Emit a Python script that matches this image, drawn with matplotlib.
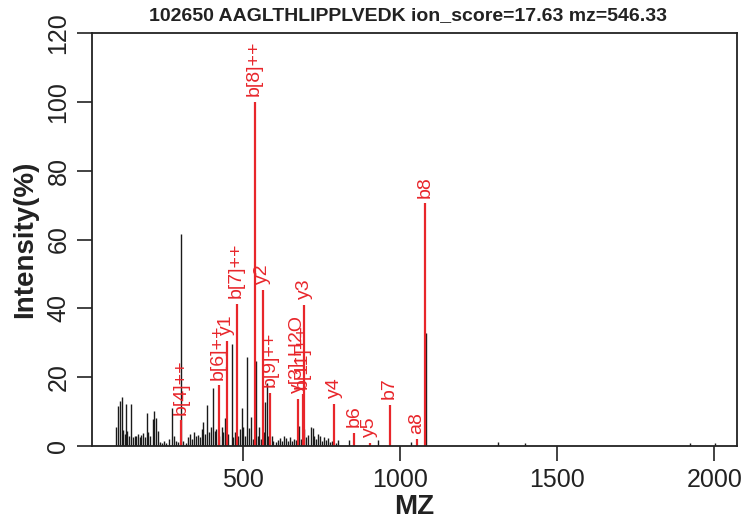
import matplotlib
matplotlib.use("Agg")
import matplotlib.pyplot as plt

plt.rcParams['font.family'] = ['Liberation Sans', 'DejaVu Sans']

# spectrum peaks (unmatched), m/z and relative intensity (%)
peak_mz = [96.1, 102.5, 110.4, 115.2, 120.0, 124.8, 129.5, 132.7, 137.5, 145.4,
           151.8, 156.6, 161.3, 167.7, 172.5, 177.2, 182.0, 188.4, 194.7, 199.5,
           205.9, 213.2, 218.6, 224.0, 229.7, 236.1, 241.5, 248.8, 255.1, 264.7,
           275.2, 280.6, 287.1, 293.3, 302.8, 309.2, 318.7, 325.1, 331.5, 337.8,
           344.2, 350.5, 356.9, 363.3, 368.7, 373.8, 379.2, 386.5, 391.9, 398.2,
           403.6, 411.0, 415.7, 425.3, 432.3, 436.4, 442.8, 453.9, 464.1, 469.8,
           474.6, 485.7, 490.5, 495.9, 501.0, 506.4, 512.7, 520.0, 526.4, 531.8,
           542.3, 547.7, 552.5, 557.2, 566.8, 570.6, 577.3, 581.1, 591.3, 597.0,
           604.9, 611.3, 617.7, 624.0, 630.4, 636.7, 643.1, 649.5, 655.8, 662.2,
           668.5, 679.0, 684.4, 694.0, 700.3, 706.7, 715.3, 721.6, 725.8, 732.1,
           739.5, 744.9, 751.2, 757.6, 763.9, 770.3, 776.7, 783.0, 795.7, 802.1,
           837.1, 930.3, 1034.2, 1081.9, 1310.9, 1396.8, 1921.5, 2001.0]
peak_int = [5.6, 11.5, 13.0, 14.2, 4.6, 3.5, 12.3, 4.5, 3.0, 12.2,
            2.5, 3.0, 2.8, 3.5, 2.5, 3.2, 3.8, 2.6, 9.6, 4.2,
            3.0, 7.7, 10.3, 8.0, 4.5, 1.2, 1.0, 1.5, 1.0, 2.0,
            11.0, 2.8, 1.5, 1.2, 61.6, 1.5, 1.0, 2.5, 3.5, 2.0,
            4.0, 3.0, 3.2, 2.5, 5.0, 7.0, 3.5, 12.0, 4.0, 5.5,
            16.8, 4.5, 5.0, 3.0, 5.6, 4.0, 8.0, 3.5, 29.6, 2.5,
            4.0, 3.0, 5.0, 10.9, 5.5, 3.0, 25.9, 5.3, 8.5, 2.0,
            24.8, 3.0, 5.6, 2.0, 4.0, 12.9, 18.2, 3.0, 2.8, 1.5,
            1.2, 1.8, 2.2, 1.5, 2.8, 2.3, 1.5, 2.5, 1.5, 2.0,
            1.8, 5.8, 2.0, 5.0, 2.5, 3.2, 5.6, 5.3, 3.0, 2.0,
            3.5, 2.8, 1.5, 2.5, 1.8, 2.2, 1.2, 1.5, 1.0, 1.8,
            1.8, 1.6, 1.2, 32.7, 1.2, 1.0, 1.0, 1.0]

# matched fragment ions
ion_labels = ['b[4]++', 'b[6]++', 'y1', 'b[7]++', 'b[8]++', 'y2', 'b[9]++',
              'y[3]-H2O', 'b[11]++', 'y3', 'y4', 'b6', 'y5', 'b7', 'a8', 'b8']
ion_mz = [303.0, 422.7, 448.2, 480.0, 537.2, 562.6, 585.9,
          674.9, 689.8, 694.9, 790.3, 853.0, 903.9, 966.5, 1052.4, 1079.7]
ion_int = [7.5, 17.7, 30.5, 41.4, 100.0, 45.4, 15.4,
           13.7, 15.0, 41.0, 12.2, 3.8, 1.0, 11.9, 2.0, 70.5]

title = '102650 AAGLTHLIPPLVEDK ion_score=17.63 mz=546.33'

red = '#e8262b'

fig = plt.figure(figsize=(7.56, 5.27), dpi=100)
ax = fig.add_axes([92 / 756, 81 / 527, 645 / 756, 413 / 527])

ax.vlines(peak_mz, 0, peak_int, color='#1a1a1a', lw=1.0)
ax.vlines(ion_mz, 0, ion_int, color=red, lw=1.6)
for lab, m, h in zip(ion_labels, ion_mz, ion_int):
    ax.annotate(lab, (m, h), xytext=(0, 4), textcoords='offset points',
                rotation=90, ha='center', va='bottom', color=red, fontsize=14)

ax.set_xlim(20, 2072)
ax.set_ylim(0, 120)
ax.set_xticks([500, 1000, 1500, 2000])
ax.set_yticks([0, 20, 40, 60, 80, 100, 120])
ax.tick_params(direction='out', length=10.5, width=1.2, labelsize=18,
               pad=5, colors='#222222')
for t in ax.get_yticklabels():
    t.set_rotation(90)
    t.set_va('center')
for s in ax.spines.values():
    s.set_linewidth(1.3)
    s.set_color('#222222')

ax.set_xlabel('MZ', fontsize=20, fontweight='bold', labelpad=2, color='#222222')
ax.set_ylabel('Intensity(%)', fontsize=20, fontweight='bold', labelpad=6,
              color='#222222')
fig.text(408 / 756, 1 - 16 / 527, title, ha='center', va='center',
         fontsize=14, fontweight='bold', color='#222222')

fig.savefig('out.png', dpi=100)
